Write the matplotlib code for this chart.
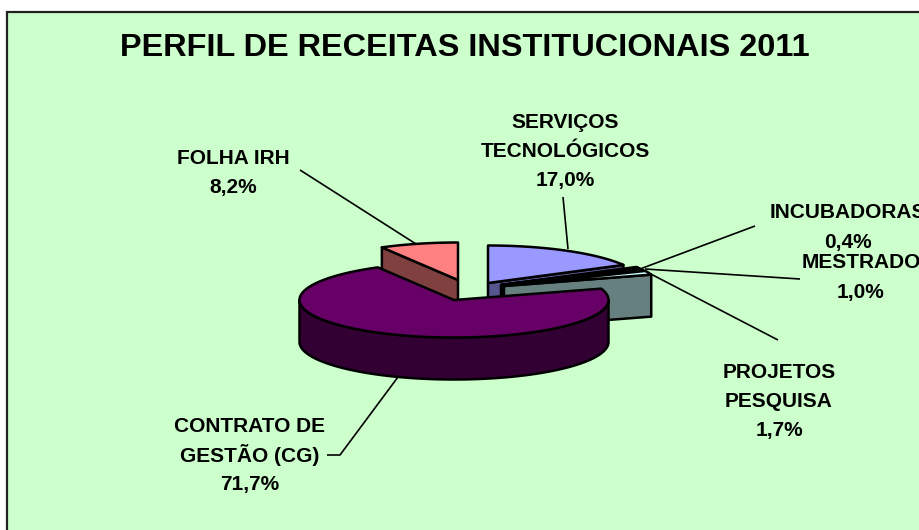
import numpy as np
import matplotlib
matplotlib.use('Agg')
import matplotlib.pyplot as plt
from matplotlib.patches import Polygon, Rectangle

# data
categories = ['SERVIÇOS\nTECNOLÓGICOS', 'INCUBADORAS', 'MESTRADO', 'PROJETOS\nPESQUISA',
              'CONTRATO DE\nGESTÃO (CG)', 'FOLHA IRH']
shares = [17.0, 0.4, 1.0, 1.7, 71.7, 8.2]
pct_labels = ['17,0%', '0,4%', '1,0%', '1,7%', '71,7%', '8,2%']

# styles, one per slice
top_colors = ['#9999FF', '#993366', '#FFFFCC', '#CCFFFF', '#660066', '#FF8080']
wall_colors = ['#55558F', '#4D1A33', '#808066', '#668080', '#330033', '#804040']
apex = [(488, 283), (501, 285), (502, 285.5), (504, 286), (454, 300), (458, 280)]
# y of first text line for each label
label_pos = [(565, 120), (848, 211), (861, 261), (779, 370), (250, 424), (233, 156)]
leaders = [[(563, 197), (568, 249)],
           [(755, 226), (640, 269)],
           [(800, 279), (645, 269)],
           [(778, 340), (645, 271)],
           [(327, 455), (340, 455), (398, 377)],
           [(300, 170), (416, 244)]]

RX, RY, DEPTH = 154.5, 37.5, 42
LINE_STEP = 29.3
BG = '#CCFFCC'

plt.rcParams['font.family'] = ['Liberation Sans', 'DejaVu Sans']

fig = plt.figure(figsize=(9.19, 5.30), dpi=100)
ax = fig.add_axes([0, 0, 1, 1])
ax.set_xlim(0, 919)
ax.set_ylim(530, 0)
ax.axis('off')

ax.add_patch(Rectangle((7, 12), 920, 530, fc=BG, ec='#222222', lw=1.6, zorder=0))


def arc(a0, a1, cx, cy):
    t = np.radians(np.linspace(a0, a1, max(int(a1 - a0), 2) + 1))
    return np.column_stack([cx + RX * np.sin(t), cy - RY * np.cos(t)])


def draw_slice(a0, a1, cx, cy, top, wall, z):
    kw = dict(ec='black', lw=1.8, joinstyle='round', zorder=z)
    down = np.array([0, DEPTH])
    # cut faces that look toward the viewer
    for a, show in ((a0, np.sin(np.radians(a0)) < 0), (a1, np.sin(np.radians(a1)) > 0)):
        if show:
            p = arc(a, a, cx, cy)[0]
            c = np.array([cx, cy])
            ax.add_patch(Polygon([c, p, p + down, c + down], fc=wall, **kw))
    # outer wall, only the front half of the rim
    lo, hi = max(a0, 90), min(a1, 270)
    if lo < hi:
        rim = arc(lo, hi, cx, cy)
        ax.add_patch(Polygon(np.vstack([rim, (rim + down)[::-1]]), fc=wall, **kw))
    ax.add_patch(Polygon(np.vstack([[cx, cy], arc(a0, a1, cx, cy)]), fc=top, **kw))


edges = np.cumsum([0] + shares) / sum(shares) * 360
# back slices first, contract slice goes over the small ones
for z, i in enumerate([5, 0, 1, 2, 3, 4]):
    cx, cy = apex[i]
    draw_slice(edges[i], edges[i + 1], cx, cy, top_colors[i], wall_colors[i], 2 + z)

for pts in leaders:
    xs, ys = zip(*pts)
    ax.plot(xs, ys, color='black', lw=1.2, zorder=12, solid_capstyle='butt')

for name, pct, (x, y) in zip(categories, pct_labels, label_pos):
    lines = name.split('\n') + [pct]
    for k, line in enumerate(lines):
        ax.text(x, y + k * LINE_STEP, line, ha='center', va='center_baseline', fontsize=15,
                fontweight='bold', zorder=15, clip_on=True)

ax.text(465, 48, 'PERFIL DE RECEITAS INSTITUCIONAIS 2011', ha='center', va='center',
        fontsize=23.4, fontweight='bold', zorder=15)

fig.savefig('out.png', dpi=100)
